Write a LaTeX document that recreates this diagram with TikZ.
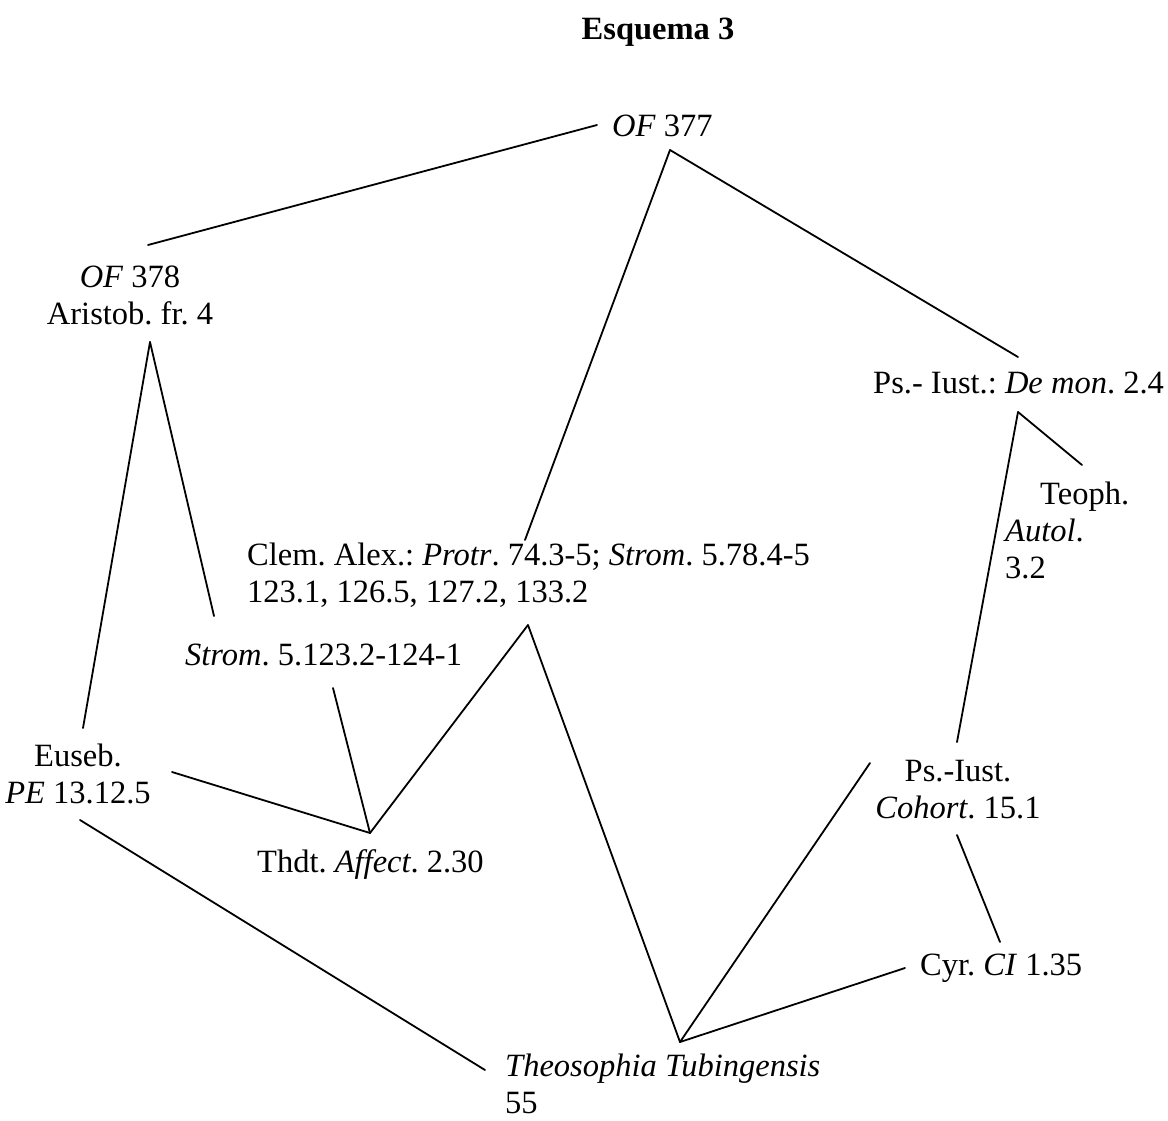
\documentclass[tikz,border=0pt]{standalone}
\usepackage{fontspec}
\setmainfont{Liberation Serif}
\usepackage{tikz}
\usetikzlibrary{positioning}
\frenchspacing
\tikzset{
  txt/.style={font=\fontsize{32.5}{37}\selectfont, inner sep=0pt, align=center},
  txtl/.style={txt, align=left},
  ttl/.style={txt, font=\fontsize{32.5}{37}\selectfont\bfseries},
  link/.style={line width=1.8pt, draw=black, line cap=round},
}

\begin{document}
\begin{tikzpicture}[x=1pt, y=-1pt]
  \useasboundingbox (0,0) rectangle (1168,1120);

  % title
  \node[ttl, anchor=base] (title) at (658,39) {Esquema 3};

  % witnesses (base = baseline of the last line)
  \node[txt, anchor=base west] (of377) at (612,136) {\textit{OF} 377};
  \node[txt, anchor=base] (of378) at (130,324) {\textit{OF} 378\\Aristob. fr. 4};
  \node[txtl, anchor=base west] (demon) at (873,393) {Ps.- Iust.: \textit{De mon}. 2.4};
  \node[txtl, anchor=base west] (teoph) at (1005,578) {\hspace*{35pt}Teoph.\\\textit{Autol}.\\3.2};
  \node[txtl, anchor=base west] (clem) at (247,602) {Clem. Alex.: \textit{Protr}. 74.3-5; \textit{Strom}. 5.78.4-5\\123.1, 126.5, 127.2, 133.2};
  \node[txt, anchor=base west] (strom) at (185,665) {\textit{Strom}. 5.123.2-124-1};
  \node[txt, anchor=base] (euseb) at (78,803) {Euseb.\\\textit{PE} 13.12.5};
  \node[txt, anchor=base west] (thdt) at (257,872) {Thdt. \textit{Affect}. 2.30};
  \node[txt, anchor=base] (cohort) at (958,818) {Ps.-Iust.\\\textit{Cohort}. 15.1};
  \node[txt, anchor=base west] (cyr) at (920,975) {Cyr. \textit{CI} 1.35};
  \node[txtl, anchor=base west] (theo) at (505,1113) {\textit{Theosophia Tubingensis}\\55};

  % line ends
  \coordinate (of377w) at (597,125);
  \coordinate (of377s) at (670,150);
  \coordinate (of378n) at (148,245);
  \coordinate (of378s) at (150,342);
  \coordinate (eusebn) at (83,728);
  \coordinate (eusebe) at (172,772);
  \coordinate (eusebs) at (80,820);
  \coordinate (stromn) at (214,616);
  \coordinate (stroms) at (333,688);
  \coordinate (thdtn) at (370,833);
  \coordinate (clemn) at (525,540);
  \coordinate (clems) at (528,625);
  \coordinate (theow) at (485,1070);
  \coordinate (theon) at (680,1042);
  \coordinate (demonn) at (1018,357);
  \coordinate (demons) at (1018,412);
  \coordinate (teophn) at (1082,465);
  \coordinate (cohortn) at (957,742);
  \coordinate (cohortw) at (870,763);
  \coordinate (cohorts) at (957,835);
  \coordinate (cyrn) at (1000,942);
  \coordinate (cyrw) at (905,968);

  % stemma
  \draw[link] (of378n) -- (of377w);
  \draw[link] (of377s) -- (clemn);
  \draw[link] (of377s) -- (demonn);
  \draw[link] (of378s) -- (eusebn);
  \draw[link] (of378s) -- (stromn);
  \draw[link] (stroms) -- (thdtn);
  \draw[link] (eusebe) -- (thdtn);
  \draw[link] (clems) -- (thdtn);
  \draw[link] (clems) -- (theon);
  \draw[link] (eusebs) -- (theow);
  \draw[link] (theon) -- (cohortw);
  \draw[link] (theon) -- (cyrw);
  \draw[link] (demons) -- (teophn);
  \draw[link] (demons) -- (cohortn);
  \draw[link] (cohorts) -- (cyrn);
\end{tikzpicture}
\end{document}
